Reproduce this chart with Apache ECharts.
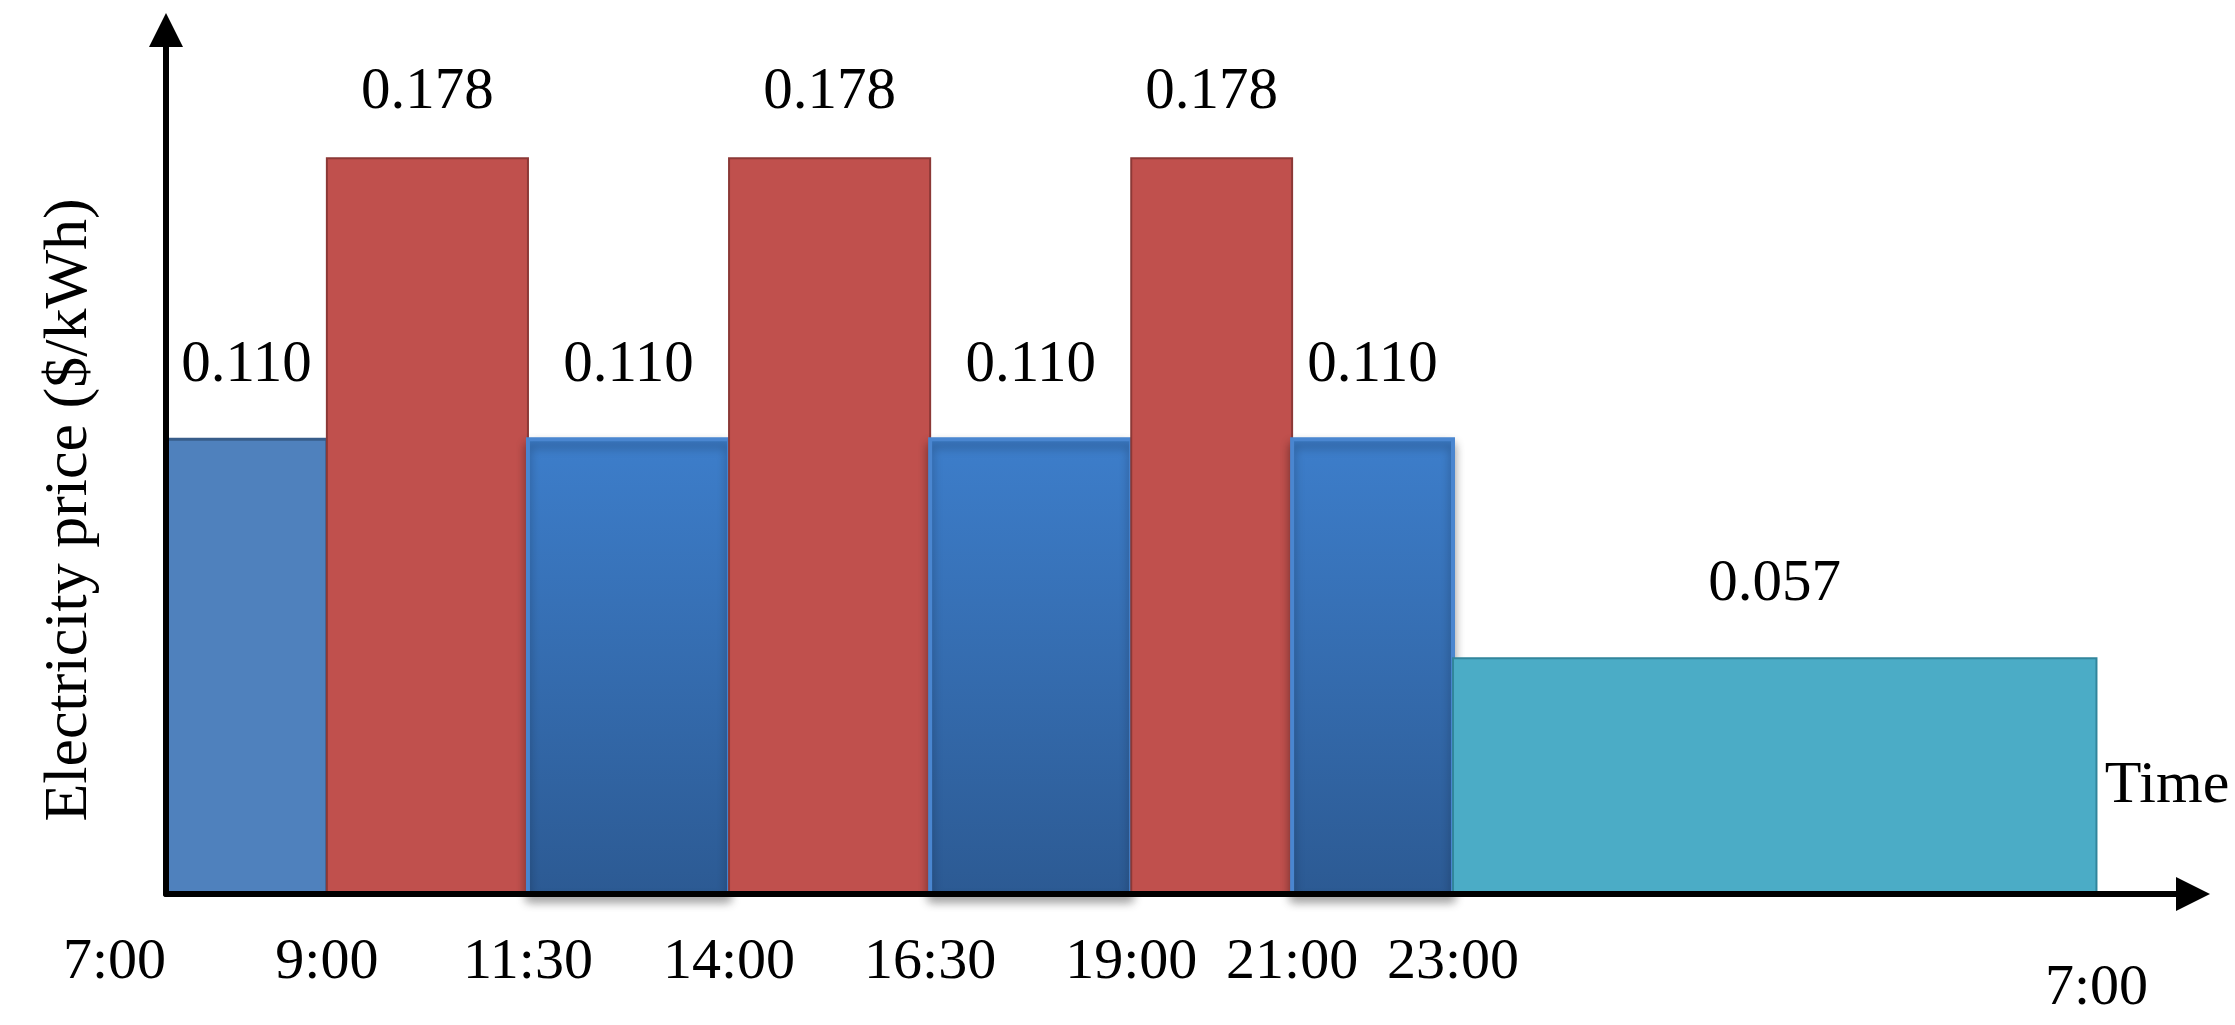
<!DOCTYPE html>
<html>
<head>
<meta charset="utf-8">
<script src="https://cdn.jsdelivr.net/npm/echarts@6.0.0/dist/echarts.min.js"></script>
<style>
  html, body { margin: 0; padding: 0; background: #ffffff; }
  #chart { width: 2235px; height: 1025px; }
</style>
</head>
<body>
<div id="chart"></div>
<script>
// ---- data (hours counted from 7:00) ----
const startHours = [0, 2, 4.5, 7, 9.5, 12, 14, 16];
const endHours   = [2, 4.5, 7, 9.5, 12, 14, 16, 24];
const prices     = [0.110, 0.178, 0.110, 0.178, 0.110, 0.178, 0.110, 0.057];
const tiers      = ['mid', 'peak', 'mid', 'peak', 'mid', 'peak', 'mid', 'off'];
const tickHours  = [0, 2, 4.5, 7, 9.5, 12, 14, 16, 24];
const tickLabels = ['7:00', '9:00', '11:30', '14:00', '16:30', '19:00', '21:00', '23:00', '7:00'];
const yAxisTitle = 'Electricity price ($/kWh)';
const xAxisTitle = 'Time';

const FONT = '"Liberation Serif", "Times New Roman", serif';

const seriesData = startHours.map((s, i) => [s, endHours[i], prices[i], i]);

function barStyle(i) {
  const tier = tiers[i];
  if (tier === 'peak') {
    return { fill: '#C0504D', stroke: '#8C3836', lineWidth: 2 };
  }
  if (tier === 'off') {
    return { fill: '#4BACC6', stroke: '#31859C', lineWidth: 2 };
  }
  if (i === 0) {
    return { fill: '#4F81BD', stroke: '#385D8A', lineWidth: 3 };
  }
  return {
    fill: new echarts.graphic.LinearGradient(0, 0, 0, 1, [
      { offset: 0, color: '#3D7ECB' },
      { offset: 1, color: '#2C5A93' }
    ]),
    stroke: '#4A86D0',
    lineWidth: 4,
    shadowBlur: 10,
    shadowOffsetY: 6,
    shadowColor: 'rgba(0,0,0,0.35)'
  };
}

function renderItem(params, api) {
  const s = api.value(0), e = api.value(1), v = api.value(2);
  const i = params.dataIndex;
  const pTop = api.coord([s, v]);
  const pBot = api.coord([e, 0]);
  const x0 = pTop[0], y0 = pTop[1];
  const w = pBot[0] - pTop[0], h = pBot[1] - pTop[1];
  const gap = tiers[i] === 'peak' ? 36 : 44;
  return {
    type: 'group',
    children: [
      {
        type: 'rect',
        shape: { x: x0, y: y0, width: w, height: h },
        style: barStyle(i)
      },
      {
        type: 'text',
        x: x0 + w / 2,
        y: y0 - gap,
        style: {
          text: v.toFixed(3),
          fill: '#000',
          font: '59px ' + FONT,
          align: 'center',
          verticalAlign: 'bottom'
        }
      }
    ]
  };
}

const chart = echarts.init(document.getElementById('chart'), null, { renderer: 'canvas' });
chart.setOption({
  backgroundColor: '#ffffff',
  animation: false,
  grid: { left: 166, right: 42, top: 30, bottom: 131, containLabel: false },
  xAxis: {
    type: 'value',
    min: 0,
    max: 25.2,
    z: 5,
    axisLine: {
      show: true,
      lineStyle: { color: '#000', width: 6 },
      symbol: ['none', 'triangle'],
      symbolSize: [34, 34]
    },
    axisTick: { show: false },
    splitLine: { show: false },
    axisLabel: {
      show: true,
      customValues: tickHours,
      margin: 40,
      color: '#000',
      fontFamily: FONT,
      fontSize: 58,
      alignMinLabel: 'right',
      formatter: function (val) {
        const k = tickHours.indexOf(val);
        if (k < 0) return '';
        return k === tickHours.length - 1 ? '{low|' + tickLabels[k] + '}' : tickLabels[k];
      },
      rich: {
        low: { fontFamily: FONT, fontSize: 58, color: '#000', padding: [26, 0, 0, 0] }
      }
    }
  },
  yAxis: {
    type: 'value',
    min: 0,
    max: 0.209,
    z: 5,
    axisLine: {
      show: true,
      lineStyle: { color: '#000', width: 6 },
      symbol: ['none', 'triangle'],
      symbolSize: [34, 34]
    },
    axisTick: { show: false },
    splitLine: { show: false },
    axisLabel: { show: false }
  },
  graphic: [
    {
      type: 'text',
      x: 70,
      y: 510,
      rotation: Math.PI / 2,
      style: {
        text: yAxisTitle,
        fill: '#000',
        font: '62px ' + FONT,
        align: 'center',
        verticalAlign: 'middle'
      }
    },
    {
      type: 'text',
      x: 2167,
      y: 786,
      style: {
        text: xAxisTitle,
        fill: '#000',
        font: '60px ' + FONT,
        align: 'center',
        verticalAlign: 'middle'
      }
    }
  ],
  series: [
    {
      type: 'custom',
      renderItem: renderItem,
      encode: { x: [0, 1], y: 2 },
      data: seriesData,
      clip: false
    }
  ]
});
</script>
</body>
</html>
